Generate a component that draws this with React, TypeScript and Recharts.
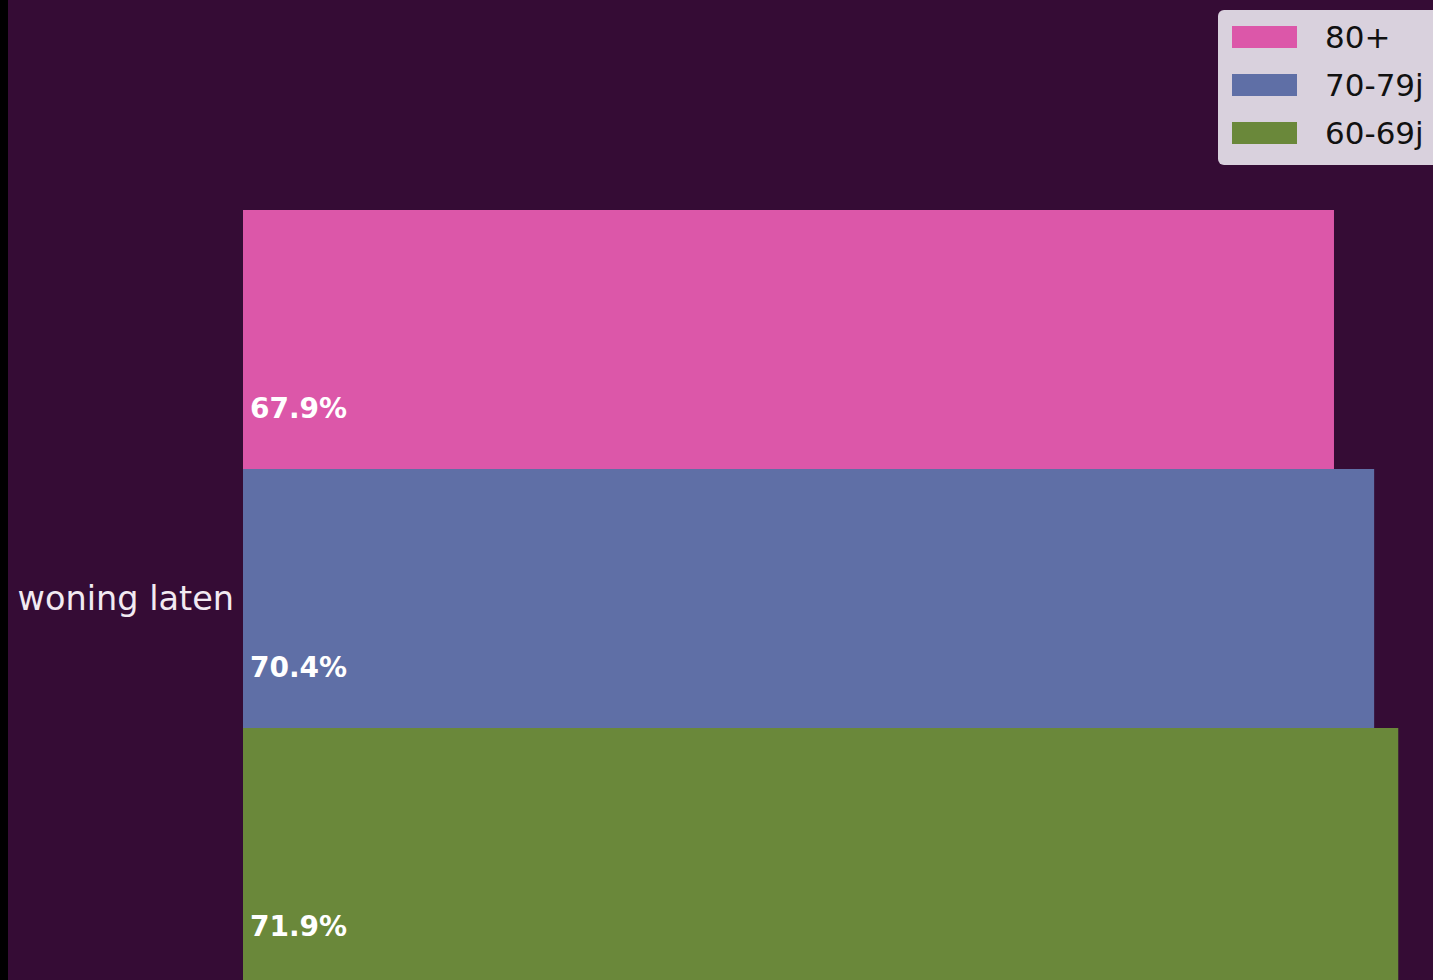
import React from 'react';
import { BarChart, Bar, XAxis, YAxis, Legend, LabelList } from 'recharts';

const categories = ['woning laten'];
const series = ['80+', '70-79j', '60-69j'];
const values80 = [67.9];
const values70 = [70.4];
const values60 = [71.9];
const colors = ['#dc57a9', '#5f6fa6', '#6a883a'];

const data = categories.map((c, i) => ({
  category: c,
  '80+': values80[i],
  '70-79j': values70[i],
  '60-69j': values60[i],
}));

const FONT = '"DejaVu Sans", sans-serif';

const renderValue = (props: any) => {
  const { x, y, height, value } = props;
  return (
    <text
      x={x + 7}
      y={y + height - 51}
      fill="#ffffff"
      fontFamily={FONT}
      fontWeight="bold"
      fontSize={28}
    >
      {`${Number(value).toFixed(1)}%`}
    </text>
  );
};

const LegendBox = () => (
  <div
    style={{
      position: 'relative',
      width: 230,
      height: 155,
      background: '#d9d1dd',
      borderRadius: 6,
      fontFamily: FONT,
      fontSize: 31,
      color: '#111111',
    }}
  >
    {series.map((s, i) => (
      <div
        key={s}
        style={{ position: 'absolute', left: 14, top: 16 + i * 48, height: 22, display: 'flex', alignItems: 'center' }}
      >
        <div style={{ width: 65, height: 22, background: colors[i] }} />
        <span style={{ marginLeft: 28, lineHeight: '22px' }}>{s}</span>
      </div>
    ))}
  </div>
);

export default function App() {
  return (
    <div style={{ position: 'fixed', left: 0, top: 0, width: 1433, height: 980, background: '#000', overflow: 'hidden' }}>
      <div style={{ position: 'absolute', left: 8, top: 0, width: 1425, height: 980, background: '#350c35', overflow: 'hidden' }}>
        <BarChart
          width={1425}
          height={1196}
          data={data}
          layout="vertical"
          margin={{ top: 0, right: 1, bottom: 0, left: 0 }}
          barGap={0}
          barSize={259}
        >
          <XAxis type="number" domain={[0, 74]} hide />
          <YAxis
            type="category"
            dataKey="category"
            width={235}
            axisLine={false}
            tickLine={false}
            tickSize={8}
            tickMargin={1}
            tick={{ fill: '#f2eaf2', fontSize: 33.5, fontFamily: FONT }}
          />
          <Legend
            layout="vertical"
            align="center"
            verticalAlign="middle"
            content={<LegendBox />}
            wrapperStyle={{ top: 10, left: 1210, width: 230, height: 155 }}
          />
          {series.map((s, i) => (
            <Bar key={s} dataKey={s} fill={colors[i]} isAnimationActive={false}>
              <LabelList dataKey={s} content={renderValue} />
            </Bar>
          ))}
        </BarChart>
      </div>
    </div>
  );
}
